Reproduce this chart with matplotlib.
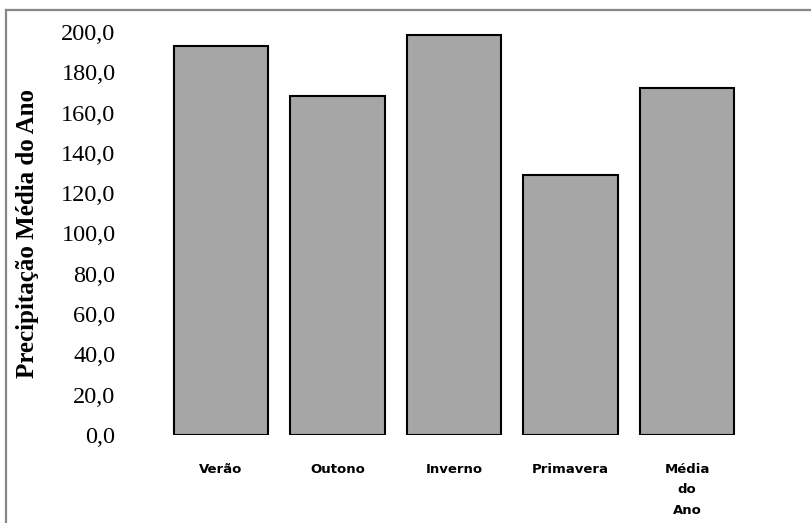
import matplotlib
matplotlib.use("Agg")
import matplotlib.pyplot as plt
from matplotlib.lines import Line2D

# values
estacoes = ["Verão", "Outono", "Inverno", "Primavera", "Média\ndo\nAno"]
precipitacao = [193.0, 168.1, 198.7, 129.0, 172.2]
yticks = [0, 20, 40, 60, 80, 100, 120, 140, 160, 180, 200]

fig = plt.figure(figsize=(8.12, 5.23), dpi=100)
ax = fig.add_axes([0.2004, 0.1683, 0.7174, 0.7705])

x = range(len(estacoes))
ax.bar(x, precipitacao, width=0.81, color="#a6a6a6", edgecolor="black",
       linewidth=1.5, zorder=2)

ax.set_xlim(-0.5, len(estacoes) - 0.5)
ax.set_ylim(0, 200)
ax.set_yticks(yticks)
ax.set_yticklabels([f"{v:.1f}".replace(".", ",") for v in yticks],
                   family="Liberation Serif", fontsize=17.5)
ax.set_xticks(list(x))
ax.set_xticklabels(estacoes, family="DejaVu Sans", fontsize=9.5,
                   fontweight="bold", va="top", linespacing=1.75)
ax.tick_params(axis="y", length=0, pad=34)
ax.tick_params(axis="x", length=0, pad=20)
for s in ax.spines.values():
    s.set_visible(False)

ax.set_ylabel("Precipitação Média do Ano", family="Liberation Serif",
              fontsize=18, fontweight="bold")
ax.yaxis.set_label_coords(-0.213, 0.5)

# chart frame (only top and left edges visible in the crop)
fig.add_artist(Line2D([6 / 812, 6 / 812], [0, 1 - 10 / 523],
                      transform=fig.transFigure, color="#888888", lw=1.6))
fig.add_artist(Line2D([6 / 812, 1], [1 - 10 / 523, 1 - 10 / 523],
                      transform=fig.transFigure, color="#888888", lw=1.6))

fig.savefig("out.png", dpi=100)
